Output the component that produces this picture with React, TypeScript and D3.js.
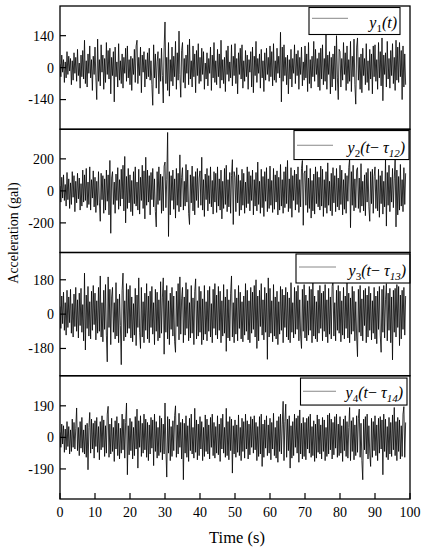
import React from "react";
import * as d3 from "d3";

// sampling interval of the digitised records (s)
const timeStep = 0.25;

// y1(t) — acceleration (gal)
const y1 = [
  15,-40,55,-20,35,-65,25,-45,70,-30,50,-15,40,-75,30,-55,65,-25,45,-60,
  80,-35,20,-90,55,-40,75,-50,120,-70,30,-85,60,-25,95,-45,35,-100,50,-30,
  90,-45,-140,125,-60,35,-80,100,-20,55,-95,40,-65,110,-30,75,-50,85,-115,45,
  -35,70,-150,90,-40,25,-85,105,-55,30,-70,60,-90,45,-25,85,-60,95,-45,35,
  -75,50,-100,40,-30,80,-65,95,120,-70,45,-35,90,-110,55,-20,70,-85,35,-50,
  65,-40,85,-55,30,-75,-165,100,-45,60,-90,25,70,-115,40,-60,85,-35,-155,90,
  200,-70,45,-100,110,-125,35,-60,90,-80,50,-40,115,-95,65,-55,160,-30,-130,75,
  110,-65,40,-90,55,-25,100,-75,125,-50,30,-85,95,-40,60,-110,75,-35,105,-70,
  45,-60,85,-30,70,-95,20,-50,65,-80,40,-25,90,-100,55,-45,110,-65,30,-75,
  80,-40,60,-90,120,-55,35,-70,45,-105,75,-30,95,-60,25,-45,100,-80,50,-35,
  105,-70,40,-115,65,-30,85,-50,100,-90,30,-60,75,-40,55,-95,35,-20,70,-85,
  90,-110,50,-35,115,-65,40,-25,60,-90,80,-45,30,-105,65,-55,85,-30,45,-60,
  95,-40,70,-80,105,-55,30,-65,85,-25,50,-45,155,-150,90,-60,100,-35,45,-75,
  55,-115,35,-50,80,-85,40,-25,100,-70,60,-35,75,-95,45,-30,90,-80,25,-55,
  95,-45,60,-105,110,-70,35,-90,50,-40,115,-60,80,-30,40,-85,65,-100,85,-50,
  100,-75,40,-60,145,-95,55,-30,70,-115,45,-85,60,-50,95,-100,140,-45,-140,80,
  70,-85,40,-55,110,-30,65,-100,95,-70,35,-60,115,-105,50,-40,125,-75,-160,90,
  130,-55,45,-95,60,-110,85,-35,40,-75,105,-65,30,-100,80,-50,60,-115,95,-40,
  100,-60,35,-95,110,-45,70,-80,130,-145,55,-30,65,-85,115,-50,40,-90,75,-35,
  105,-70,45,-100,120,-55,90,-65,110,-40,75,-140,95,-85,60,-75,
];

// y2(t - tau12)
const y2 = [
  30,-70,85,-45,100,-60,40,-95,115,-55,75,-110,50,-85,120,-40,95,-130,60,-75,
  110,-50,80,-120,45,-95,130,-70,100,-60,140,-105,55,-85,150,-120,70,-45,125,-100,
  85,-135,60,-90,120,-70,-190,110,-55,95,-140,75,-120,130,-65,100,-150,190,-265,80,
  120,-85,55,-140,105,-60,145,-115,70,-95,135,-50,160,-125,215,-200,90,-110,140,-75,
  100,-130,65,-155,120,-80,150,-95,55,-120,135,-145,85,-60,160,-110,125,-175,210,-90,
  130,-70,95,-150,115,-55,140,-100,75,-130,-225,120,-85,150,-60,105,-140,90,-125,155,
  180,-105,70,365,-285,120,-150,95,-60,130,-115,75,-170,140,-90,110,-130,225,-100,85,
  145,-120,60,-95,165,-70,130,-140,-210,100,-75,155,-125,90,-150,120,-60,140,-105,80,
  125,-90,210,-120,70,-160,105,-55,140,-125,95,-80,150,-100,65,-145,120,-70,110,-135,
  150,-95,75,-120,130,-175,60,-110,140,-85,160,-130,70,-100,115,-140,95,195,-210,120,
  85,-130,145,-75,100,-155,65,-120,135,-90,110,-140,55,-105,150,-80,120,-125,95,-60,
  130,-150,70,-95,115,-125,180,-85,60,-140,135,-105,90,-160,120,-65,145,-130,75,-110,
  155,-90,65,-135,140,-115,100,-70,125,-150,85,-120,165,-95,70,-140,120,-105,150,-80,
  190,-130,75,-110,145,-165,95,-60,130,-120,105,-85,150,-135,70,-100,140,190,-215,110,
  125,-90,160,-135,80,-110,140,-170,65,-125,105,-145,150,-80,120,-100,85,-120,155,-95,
  135,-160,70,-105,120,-140,175,-90,60,-125,110,-155,145,-75,95,-130,140,-100,80,-120,
  160,-85,130,-150,70,-115,110,-140,95,-65,145,200,-230,120,-90,160,-125,75,-105,130,
  145,-110,80,-135,170,-95,60,-125,100,-155,115,-70,140,-100,-190,120,-80,135,-140,90,
  150,-110,70,-125,135,-165,95,-80,125,-145,60,-100,200,-220,115,-90,160,-130,85,-70,
  140,-105,75,195,-225,130,-150,90,-120,165,-95,70,-130,145,-85,110,
];

// y3(t - tau13)
const y3 = [
  40,-75,95,-50,115,-85,60,-110,125,-70,90,-45,130,-100,55,-120,105,-65,140,-90,
  75,-125,110,-60,135,-95,50,-140,215,-188,100,-75,145,-115,65,-130,120,-85,150,-55,
  110,-135,70,-100,140,-90,200,-120,60,-145,125,-80,155,-110,-250,195,-70,130,-160,90,
  140,-95,60,-130,165,-115,80,-150,105,-60,-265,125,215,-140,70,-120,160,-100,130,-75,
  150,-125,90,-145,55,-110,135,-165,100,-70,190,-95,-180,140,-120,65,-150,110,-85,160,
  -130,95,-150,120,-70,145,-105,60,-160,130,-90,115,-140,75,-125,170,-100,85,190,-210,
  125,-95,150,-130,70,-160,110,-80,140,-115,95,-145,-200,120,-65,160,-135,195,-105,80,
  140,-150,90,-110,165,-75,130,-140,60,-125,150,-100,85,-160,120,185,-130,70,-115,145,
  -95,120,-160,80,-135,150,-105,65,-140,125,-90,145,-120,55,-150,130,-75,160,-110,100,
  -130,145,-85,120,-150,70,-115,155,-100,90,-195,130,-125,75,-140,110,200,-120,60,-150,
  130,-105,85,-140,150,-75,115,-130,65,-145,95,-110,160,-90,125,-135,70,-150,140,-100,
  115,-80,150,-120,180,-180,95,-140,125,-65,160,-110,75,-135,140,-95,110,-237,190,-120,
  135,-100,70,-145,155,-115,90,-130,120,-160,65,-105,145,-85,130,-150,100,-70,140,-120,
  115,-135,85,-150,165,-95,60,-125,140,-105,120,-80,150,-140,75,-115,-180,130,-90,155,
  -125,100,-140,70,-110,145,-85,130,-150,170,-115,95,-130,65,-145,125,-100,150,-75,110,
  -140,120,-90,155,-120,75,-150,135,-105,90,-130,145,175,-115,60,-140,125,-85,150,-100,
  120,-145,70,-110,140,-130,95,-75,165,-125,110,-150,85,-105,145,-90,120,-140,65,-120,
  -223,130,-95,150,-115,80,-140,125,-60,135,-150,100,-120,145,-85,110,-135,70,-100,140,
  -130,95,-155,120,-80,145,-110,-200,130,-95,150,-125,75,160,-140,110,-85,135,-150,90,
  -240,125,-95,135,-120,155,-70,145,-165,100,-130,125,-80,140,-110,95,
];

// y4(t - tau14)
const y4 = [
  30,-60,80,-40,70,-90,50,-75,95,-55,65,-100,45,-85,110,-60,90,-70,55,177,
  -80,60,-110,95,-65,120,-90,45,-100,75,-120,85,-195,60,150,-95,110,-70,85,-125,
  100,-55,120,-90,65,-135,95,-75,130,-60,105,-115,70,-95,140,187,-120,80,-100,115,
  -85,60,-145,100,-70,125,-110,85,-130,55,-95,140,-75,110,-125,90,207,-225,70,-105,
  115,-80,95,-130,60,-110,125,-70,170,-185,100,-60,130,-115,85,-95,140,-75,110,-120,
  90,-140,75,-100,120,-65,105,-170,140,-85,95,-125,60,-110,130,-90,115,-135,80,-100,
  207,-70,-239,125,-95,110,-140,65,-115,100,-80,130,190,-120,75,-100,145,-60,90,-130,
  110,-255,85,-95,130,-120,70,-145,115,-80,140,-100,60,-125,175,-90,105,-135,80,-110,
  125,-70,95,-140,60,-115,135,-85,110,-100,75,-130,120,-60,140,-110,90,-125,65,-95,
  130,-105,80,-145,115,-70,140,-95,60,-120,175,-110,95,-135,125,-80,110,-215,70,-100,
  105,-120,75,-90,135,-110,60,-140,115,-85,95,-125,140,-70,100,-130,80,-105,125,-60,
  110,-95,130,-75,90,-140,65,-115,125,-100,140,-175,80,-120,105,-65,130,-110,75,-95,
  115,-135,90,-70,145,-110,60,-125,100,-150,125,-85,140,-100,75,217,-140,95,200,-120,
  110,-80,130,-185,70,-125,95,-110,140,-60,115,-95,130,-150,165,-100,85,-130,120,-115,
  90,-135,115,-70,125,-95,140,-120,65,-110,100,-145,80,-125,135,-90,110,-100,75,-130,
  120,-85,105,-140,60,-115,135,-100,145,-75,110,-130,90,-105,125,-65,140,-120,80,-110,
  125,-95,70,-145,110,-80,130,-115,95,-125,60,180,-140,100,-85,120,-135,75,-110,130,
  -90,115,170,-120,85,-140,-255,110,-75,125,-100,140,-130,70,-95,-175,115,-120,95,-80,
  130,-110,75,-140,115,-95,125,-70,105,-225,140,-85,110,-120,65,-135,120,-100,90,-115,
  135,-75,180,-110,95,-140,120,-85,105,-130,70,-115,140,185,-120,90,
];

const seriesList = [y1, y2, y3, y4];
const yLimits = [270, 385, 323, 371];
const yTicks = [140, 200, 180, 190];
const xTicks = [0, 10, 20, 30, 40, 50, 60, 70, 80, 90, 100];
const legendSubs = ["1", "2", "3", "4"];
const legendTaus = ["", "12", "13", "14"];

const W = 427;
const H = 550;
const left = 60;
const right = 410;
const top = 6;
const bottom = 499;
const panelH = (bottom - top) / 4;

// legend box geometry per panel (relative to panel top)
const legendBoxes = [
  { x: 309, y: 1.5, w: 91, h: 27, lx1: 312, lx2: 348, ly: 12.3, tx: 397, ty: 22 },
  { x: 294, y: 1.3, w: 115, h: 29, lx1: 297, lx2: 333, ly: 16, tx: 405, ty: 24 },
  { x: 296, y: 1.5, w: 114, h: 29, lx1: 299, lx2: 336, ly: 14.5, tx: 406, ty: 23.5 },
  { x: 300.5, y: 2.3, w: 106.5, h: 27, lx1: 303, lx2: 336, ly: 15.5, tx: 403, ty: 22.5 },
];

export default function App() {
  const x = d3.scaleLinear().domain([0, 100]).range([left, right]);
  const serif = "'Liberation Serif', 'Times New Roman', serif";

  return (
    <svg
      width={W}
      height={H}
      viewBox={`0 0 ${W} ${H}`}
      style={{ position: "absolute", left: 0, top: 0, background: "#fff" }}
      fontFamily={serif}
    >
      <rect x={0} y={0} width={W} height={H} fill="#fff" />
      <defs>
        {seriesList.map((_, i) => (
          <clipPath id={`clip${i}`} key={i}>
            <rect x={left} y={top + i * panelH} width={right - left} height={panelH} />
          </clipPath>
        ))}
      </defs>
      {seriesList.map((vals, i) => {
        const p0 = top + i * panelH;
        const y = d3.scaleLinear().domain([-yLimits[i], yLimits[i]]).range([p0 + panelH, p0]);
        const line = d3
          .line<number>()
          .x((_, k) => x(k * timeStep))
          .y((v) => y(v));
        const tv = yTicks[i];
        const lb = legendBoxes[i];
        return (
          <g key={i}>
            <path
              d={line(vals) || ""}
              fill="none"
              stroke="#000"
              strokeWidth={0.8}
              strokeLinejoin="miter"
              clipPath={`url(#clip${i})`}
            />
            {[-tv, 0, tv].map((t) => (
              <g key={t}>
                <line x1={left} x2={left + 6} y1={y(t)} y2={y(t)} stroke="#000" strokeWidth={1.2} />
                <text x={left - 6} y={y(t)} dy="0.35em" textAnchor="end" fontSize={14}>
                  {String(t)}
                </text>
              </g>
            ))}
            <g>
              <rect x={lb.x} y={p0 + lb.y} width={lb.w} height={lb.h} fill="#fff" stroke="#000" strokeWidth={1.1} />
              <line x1={lb.lx1} x2={lb.lx2} y1={p0 + lb.ly} y2={p0 + lb.ly} stroke="#888" strokeWidth={1} />
              <text x={lb.tx} y={p0 + lb.ty} textAnchor="end" fontSize={16}>
                <tspan fontStyle="italic">y</tspan>
                <tspan fontSize={11} dy={4}>{legendSubs[i]}</tspan>
                {legendTaus[i] === "" ? (
                  <tspan fontStyle="italic" dy={-4}>(t)</tspan>
                ) : (
                  <>
                    <tspan fontStyle="italic" dy={-4}>(t</tspan>
                    <tspan>{"\u2212 "}</tspan>
                    <tspan fontStyle="italic">{"\u03C4"}</tspan>
                    <tspan fontStyle="italic" fontSize={11} dy={4}>{legendTaus[i]}</tspan>
                    <tspan fontStyle="italic" dy={-4}>)</tspan>
                  </>
                )}
              </text>
            </g>
            <rect x={left} y={p0} width={right - left} height={panelH} fill="none" stroke="#000" strokeWidth={1.3} />
          </g>
        );
      })}
      {xTicks.map((t) => (
        <g key={t}>
          <line x1={x(t)} x2={x(t)} y1={bottom} y2={bottom - 6} stroke="#000" strokeWidth={1.2} />
          <text x={x(t)} y={516.5} textAnchor="middle" fontSize={14}>
            {t}
          </text>
        </g>
      ))}
      <text x={237} y={543} textAnchor="middle" fontSize={16.5}>
        Time (s)
      </text>
      <text
        transform={`translate(18, 233) rotate(-90)`}
        textAnchor="middle"
        fontSize={14}
      >
        Acceleration (gal)
      </text>
    </svg>
  );
}
